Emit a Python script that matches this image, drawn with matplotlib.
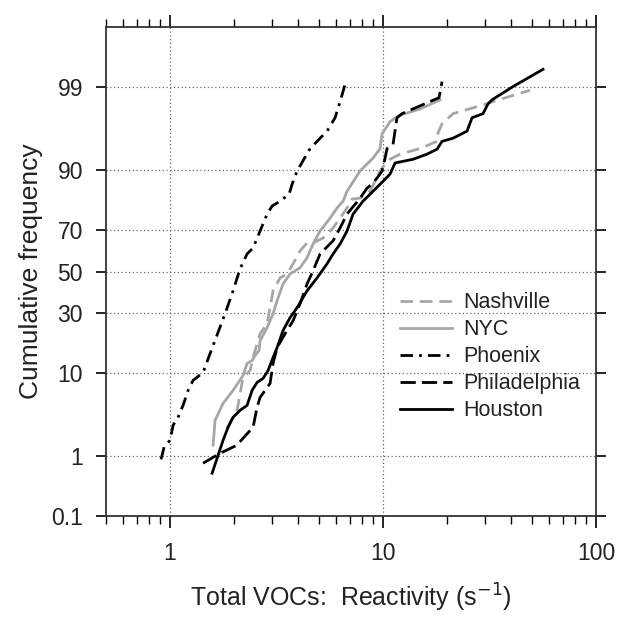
import numpy as np
import matplotlib
matplotlib.use('Agg')
import matplotlib.pyplot as plt
from matplotlib.ticker import FixedLocator, FixedFormatter, LogLocator, NullFormatter
from statistics import NormalDist

# cumulative frequency (%) vs total VOC reactivity (s-1)
phx_x = [0.907, 0.937, 1.0, 1.033, 1.09, 1.151, 1.215, 1.282, 1.429, 1.541, 1.812, 1.976, 2.132,
         2.299, 2.453, 2.646, 2.854, 3.012, 3.285, 3.621, 3.74, 3.948, 4.544, 5.459, 5.952, 6.283, 6.632]
phx_p = [0.88, 1.32, 1.65, 2.6, 3.27, 4.54, 6.65, 8.44, 10.1, 15.0, 29.7, 40.4, 51.4,
         58.8, 61.7, 69.6, 76.6, 79.6, 81.3, 83.6, 86.5, 89.8, 94.0, 96.2, 97.4, 98.4, 99.1]

nyc_x = [1.592, 1.627, 1.774, 1.976, 2.202, 2.299, 2.427, 2.506, 2.617, 2.646, 2.854, 3.045, 3.18,
         3.392, 3.66, 4.077, 4.398, 4.693, 5.061, 5.639, 6.081, 6.49, 6.776, 7.798, 8.41, 8.977,
         9.681, 9.892, 10.79, 12.02, 14.92, 18.52]
nyc_p = [1.41, 3.01, 4.79, 6.65, 9.44, 12.25, 13.03, 14.41, 15.9, 19.1, 23.9, 29.7, 35.6,
         43.8, 48.8, 51.9, 56.9, 63.6, 69.6, 75.0, 78.9, 81.3, 84.5, 89.8, 91.3, 92.4,
         94.0, 95.9, 97.1, 97.6, 98.0, 98.5]

phl_x = [1.429, 1.717, 2.064, 2.202, 2.453, 2.561, 2.646, 2.948, 3.045, 3.18, 3.467, 3.781, 4.077,
         4.398, 4.693, 5.061, 5.825, 6.283, 6.776, 7.798, 8.41, 8.977, 9.681, 9.892, 10.22, 10.44,
         11.14, 11.63, 12.28, 18.32, 18.92]
phl_p = [0.77, 1.08, 1.41, 1.76, 2.45, 4.3, 5.58, 7.87, 12.25, 16.8, 21.6, 26.7, 34.2,
         43.8, 50.4, 58.8, 65.1, 70.9, 76.6, 82.3, 85.4, 86.8, 89.1, 89.8, 92.4, 94.0,
         94.6, 97.4, 97.7, 98.6, 99.18]

hou_x = [1.575, 1.774, 1.872, 1.976, 2.132, 2.299, 2.427, 2.561, 2.733, 2.885, 3.045, 3.18, 3.392,
         3.66, 3.948, 4.398, 4.9, 5.459, 5.825, 6.283, 6.776, 7.231, 8.054, 8.977, 10.0, 10.79,
         11.39, 13.83, 16.09, 17.93, 18.92, 21.31, 24.8, 26.17, 29.48, 31.12, 32.49, 40.77, 56.39]
hou_p = [0.54, 1.65, 2.45, 3.27, 3.97, 4.54, 6.65, 8.05, 8.83, 10.55, 13.85, 16.8, 22.8,
         28.0, 32.4, 40.4, 46.8, 53.9, 58.8, 63.6, 69.6, 76.6, 81.3, 84.5, 87.3, 89.1,
         91.5, 92.2, 93.1, 93.9, 95.0, 95.4, 96.2, 97.4, 97.7, 98.3, 98.5, 99.03, 99.47]

nsh_x = [1.852, 1.976, 2.064, 2.132, 2.202, 2.375, 2.453, 2.561, 2.646, 2.854, 2.948, 3.045, 3.285,
         3.543, 3.781, 4.077, 4.398, 4.693, 5.228, 5.825, 6.283, 6.776, 7.153, 7.798, 8.69, 9.681,
         10.22, 10.79, 12.02, 14.92, 17.93, 18.12, 18.92, 21.31, 30.78, 32.49, 40.77, 48.98]
nsh_p = [2.38, 3.27, 3.97, 6.18, 9.03, 10.55, 13.85, 18.1, 21.6, 25.5, 32.4, 40.4, 46.8,
         48.8, 53.9, 60.3, 64.1, 64.1, 66.4, 70.9, 75.0, 78.9, 82.0, 82.3, 84.5, 89.8,
         91.3, 92.2, 93.1, 94.0, 95.0, 96.0, 96.9, 97.7, 98.3, 98.4, 98.7, 98.9]

y_ticks = [0.1, 1, 10, 30, 50, 70, 90, 99]
y_labels = ['0.1', '1', '10', '30', '50', '70', '90', '99']

nd = NormalDist()


def prob_fwd(p):
    p = np.clip(np.asarray(p, dtype=float), 1e-6, 100 - 1e-6)
    return np.vectorize(lambda v: nd.inv_cdf(v / 100.0), otypes=[float])(p)


def prob_inv(z):
    z = np.asarray(z, dtype=float)
    return np.vectorize(lambda v: 100.0 * nd.cdf(v), otypes=[float])(z)


plt.rcParams['font.family'] = ['Liberation Sans', 'DejaVu Sans']

fig = plt.figure(figsize=(6.18, 6.17), dpi=100)
ax = fig.add_axes([0.1715, 0.1637, 0.7929, 0.7925])

gray = '#a6a6a6'
ax.plot(nsh_x, nsh_p, color=gray, lw=2, dashes=(4.5, 2.5), label='Nashville')
ax.plot(nyc_x, nyc_p, color=gray, lw=2, label='NYC')
ax.plot(phx_x, phx_p, color='black', lw=2, dashes=(4.5, 2.2, 1, 2.2), label='Phoenix')
ax.plot(phl_x, phl_p, color='black', lw=2, dashes=(5.5, 2.2), label='Philadelphia')
ax.plot(hou_x, hou_p, color='black', lw=2, label='Houston')

ax.set_xscale('log')
ax.set_yscale('function', functions=(prob_fwd, prob_inv))
ax.set_xlim(0.5, 100)
ax.set_ylim(0.1, 99.9)

ax.xaxis.set_major_locator(FixedLocator([1, 10, 100]))
ax.xaxis.set_major_formatter(FixedFormatter(['1', '10', '100']))
ax.xaxis.set_minor_locator(LogLocator(base=10, subs=np.arange(2, 10)))
ax.xaxis.set_minor_formatter(NullFormatter())
ax.yaxis.set_major_locator(FixedLocator(y_ticks))
ax.yaxis.set_major_formatter(FixedFormatter(y_labels))
ax.yaxis.set_minor_locator(FixedLocator([]))

ax.tick_params(which='major', direction='out', length=8.5, width=1.2, labelsize=16.5,
               labelcolor='#222222', top=True, right=True)
ax.tick_params(axis='y', which='major', length=7.5, pad=9)
ax.tick_params(axis='x', which='major', pad=10.5)
ax.tick_params(which='minor', direction='out', length=5.5, width=1.0, top=True, right=True)
for s in ax.spines.values():
    s.set_linewidth(1.3)
    s.set_color('#333333')

ax.grid(True, which='major', linestyle=(0, (1, 2)), color='#666666', linewidth=0.9)

ax.set_xlabel('Total VOCs:  Reactivity (s$^{-1}$)', fontsize=18, labelpad=12, color='#222222')
ax.set_ylabel('Cumulative frequency', fontsize=19, labelpad=6, color='#222222')

ax.legend(loc='upper left', bbox_to_anchor=(0.60, 0.458), frameon=False, fontsize=15.5,
          handlelength=2.4, handletextpad=0.55, labelspacing=0.28,
          borderpad=0, borderaxespad=0, labelcolor='#222222')

fig.savefig('out.png', dpi=100)
